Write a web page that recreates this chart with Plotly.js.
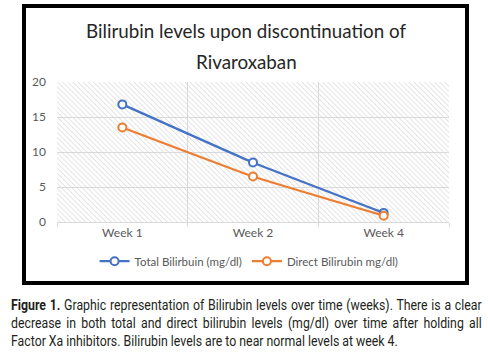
<!DOCTYPE html>
<html>
<head>
<meta charset="utf-8">
<script src="https://cdn.plot.ly/plotly-3.0.1.min.js"></script>
<style>
  html, body { margin: 0; padding: 0; background: #fff; width: 488px; height: 364px; overflow: hidden; }
  #chart { position: absolute; left: 0; top: 0; width: 488px; height: 364px; }
  #frame { position: absolute; left: 22px; top: 4px; width: 439px; height: 273px; border: 4px solid #000; pointer-events: none; }
  #caption { position: absolute; left: 11px; top: 296px; width: 574px; transform: scaleX(0.82); transform-origin: 0 0;
    font-family: "Roboto", "Liberation Sans", sans-serif; font-size: 15px; line-height: 18px; color: #231f20; }
  #caption .j { text-align: justify; text-align-last: justify; white-space: nowrap; }
  #caption .l { text-align: left; white-space: nowrap; }
</style>
</head>
<body>
<div id="chart"></div>
<div id="frame"></div>
<div id="caption"><div class="j"><b>Figure 1.</b> Graphic representation of Bilirubin levels over time (weeks). There is a clear</div><div class="j">decrease in both total and direct bilirubin levels (mg/dl) over time after holding all</div><div class="l">Factor Xa inhibitors. Bilirubin levels are to near normal levels at week 4.</div></div>
<script>
const categories = ["Week 1", "Week 2", "Week 4"];
const totalBilirubin = [16.8, 8.5, 1.3];
const directBilirubin = [13.5, 6.5, 0.9];
const seriesNames = ["Total Bilirbuin (mg/dl)", "Direct Bilirubin mg/dl)"];
const yTicks = [0, 5, 10, 15, 20];
const titleLines = ["Bilirubin levels upon discontinuation of", "Rivaroxaban"];

const hatch = "data:image/svg+xml;utf8," + encodeURIComponent(
  "<svg xmlns='http://www.w3.org/2000/svg' width='392' height='140'>" +
  "<defs><pattern id='p' width='3.6' height='3.6' patternUnits='userSpaceOnUse' patternTransform='rotate(-45)'>" +
  "<line x1='0' y1='0' x2='0' y2='3.6' stroke='#cbcbcb' stroke-width='1'/></pattern></defs>" +
  "<rect width='100%' height='100%' fill='url(#p)'/></svg>");

const font = "Lato, 'Open Sans', sans-serif";

const traces = [
  { x: categories, y: totalBilirubin, name: seriesNames[0], type: "scatter", mode: "lines+markers",
    line: { color: "#4472C4", width: 2.25, shape: "spline", smoothing: 0.3 },
    marker: { symbol: "circle", size: 8, color: "#ffffff", line: { color: "#4472C4", width: 2 } } },
  { x: categories, y: directBilirubin, name: seriesNames[1], type: "scatter", mode: "lines+markers",
    line: { color: "#ED7D31", width: 2.25, shape: "spline", smoothing: 0.3 },
    marker: { symbol: "circle", size: 8, color: "#ffffff", line: { color: "#ED7D31", width: 2 } } }
];

const titleFont = { family: font, size: 18.8, color: "#262626" };

const layout = {
  width: 488, height: 364,
  margin: { l: 57, r: 39, t: 82, b: 142 },
  paper_bgcolor: "#ffffff", plot_bgcolor: "rgba(0,0,0,0)",
  annotations: [
    { text: titleLines[0], xref: "paper", yref: "paper", x: 0.483, y: 1.368, xanchor: "center", yanchor: "middle",
      showarrow: false, font: titleFont },
    { text: titleLines[1], xref: "paper", yref: "paper", x: 0.483, y: 1.143, xanchor: "center", yanchor: "middle",
      showarrow: false, font: titleFont }
  ],
  xaxis: { type: "category", range: [-0.5, 2.5], tickson: "boundaries", showgrid: true, gridcolor: "#d9d9d9", gridwidth: 1,
    ticks: "outside", ticklen: 4, tickcolor: "#d9d9d9", showline: true, linecolor: "#d9d9d9",
    tickfont: { family: font, size: 12, color: "#595959" }, fixedrange: true, zeroline: false },
  yaxis: { range: [0, 20], tickvals: yTicks, showgrid: true, gridcolor: "#d9d9d9", gridwidth: 1,
    zeroline: false, showline: false, ticks: "", ticklabelstandoff: 10,
    tickfont: { family: font, size: 12, color: "#595959" }, fixedrange: true },
  showlegend: true,
  legend: { orientation: "h", x: 0.49, xanchor: "center", y: -0.28, yanchor: "middle",
    font: { family: font, size: 11.5, color: "#595959" }, itemwidth: 30, tracegroupgap: 0 },
  images: [{ source: hatch, xref: "paper", yref: "paper", x: 0, y: 1, sizex: 1, sizey: 1,
    sizing: "stretch", xanchor: "left", yanchor: "top", layer: "below" }]
};

Plotly.newPlot("chart", traces, layout, { displayModeBar: false, staticPlot: true });
</script>
</body>
</html>
